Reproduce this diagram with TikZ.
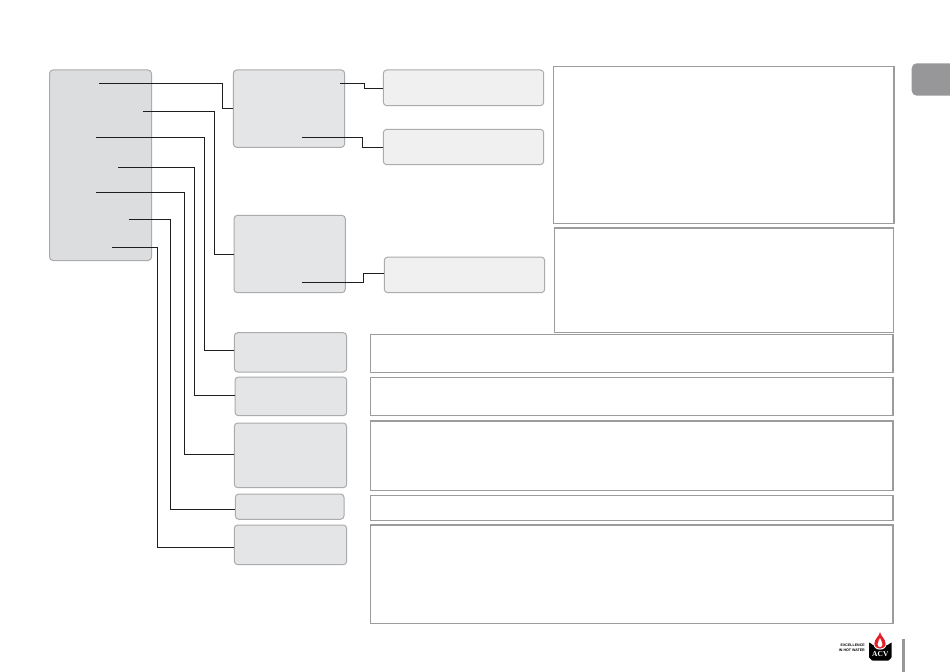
\documentclass[tikz,border=0pt]{standalone}
\usepackage{fontspec}
\setmainfont{Liberation Sans}
\newfontfamily\acvserif{Liberation Serif}
\definecolor{mainfill}{HTML}{DCDDDF}
\definecolor{midfill}{HTML}{E4E5E7}
\definecolor{lightfill}{HTML}{F0F0F1}
\definecolor{edgegray}{HTML}{ABABAD}
\definecolor{framegray}{HTML}{9C9C9E}
\definecolor{tabgray}{HTML}{97979A}
\definecolor{acvred}{HTML}{E3202A}
\definecolor{wire}{HTML}{1E1E1E}
\tikzset{
  x=1bp,y=-1bp,
  panel/.style={draw=edgegray,line width=1bp,rounded corners=3.5bp,inner sep=0pt,outer sep=0pt},
  mainbox/.style={panel,fill=mainfill},
  midbox/.style={panel,fill=midfill},
  lightbox/.style={panel,fill=lightfill},
  framebox/.style={draw=framegray,line width=1.1bp,fill=white,inner sep=0pt,outer sep=0pt},
  wireline/.style={draw=wire,line width=1bp,line cap=butt,line join=miter},
}
% name, style, x0, y0, x1, y1
\newcommand{\placebox}[6]{%
  \path (#3,#4) coordinate (#1-a) (#5,#6) coordinate (#1-b);
  \node[#2,anchor=north west,minimum width={(#5-#3)*1bp},minimum height={(#6-#4)*1bp}] (#1) at (#3,#4) {};
}
\begin{document}
\begin{tikzpicture}
\useasboundingbox (0,0) rectangle (950,672);
\fill[white] (0,0) rectangle (950,672);

\placebox{menu}{mainbox}{49.5}{70}{151.5}{260.5}
\placebox{boxA}{midbox}{233.3}{70}{344.7}{147.3}
\placebox{boxB}{midbox}{234}{215.3}{345.3}{292.7}
\placebox{boxC}{midbox}{234.3}{332.7}{346.7}{372}
\placebox{boxD}{midbox}{235}{377}{346.7}{415.7}
\placebox{boxE}{midbox}{234.3}{423}{346.7}{487.7}
\placebox{boxF}{midbox}{235.3}{494}{344}{519.3}
\placebox{boxG}{midbox}{234.3}{525}{346.7}{564.7}
\placebox{subA}{lightbox}{383.3}{70}{543.7}{105.7}
\placebox{subB}{lightbox}{383.3}{129.3}{543.7}{164.7}
\placebox{subC}{lightbox}{384.3}{257}{544.7}{292.7}
\placebox{noteA}{framebox}{553.5}{66.5}{894}{223.5}
\placebox{noteB}{framebox}{554.5}{228}{893.5}{332.3}
\placebox{noteC}{framebox}{370.5}{334.5}{893}{372.3}
\placebox{noteD}{framebox}{370.5}{377.3}{893}{415.3}
\placebox{noteE}{framebox}{370.5}{421}{893}{490.3}
\placebox{noteF}{framebox}{370.5}{495.3}{893}{520.7}
\placebox{noteG}{framebox}{370.5}{525}{893}{623.5}

% connector ends and elbows
\coordinate (s1) at (99,83.3);    \coordinate (k1) at (222.3,108.3);
\coordinate (s2) at (143.3,111.3);\coordinate (k2) at (214.3,254.3);
\coordinate (s3) at (96,137.3);   \coordinate (k3) at (204.3,350.3);
\coordinate (s4) at (118.3,167.3);\coordinate (k4) at (194.3,395.3);
\coordinate (s5) at (96,192);     \coordinate (k5) at (184.3,454.3);
\coordinate (s6) at (128.7,219.3);\coordinate (k6) at (170.3,509.3);
\coordinate (s7) at (112,247.3);  \coordinate (k7) at (157.3,547.3);
\coordinate (s8) at (340.3,83.3); \coordinate (k8) at (364.3,88.3);
\coordinate (s9) at (301.7,137.3);\coordinate (k9) at (362.3,147.3);
\coordinate (s10) at (302,282.3); \coordinate (k10) at (363.3,273.3);

\draw[wireline] (s1) -| (k1) -- (k1 -| boxA.west);
\draw[wireline] (s2) -| (k2) -- (k2 -| boxB.west);
\draw[wireline] (s3) -| (k3) -- (k3 -| boxC.west);
\draw[wireline] (s4) -| (k4) -- (k4 -| boxD.west);
\draw[wireline] (s5) -| (k5) -- (k5 -| boxE.west);
\draw[wireline] (s6) -| (k6) -- (k6 -| boxF.west);
\draw[wireline] (s7) -| (k7) -- (k7 -| boxG.west);
\draw[wireline] (s8) -| (k8) -- (k8 -| subA.west);
\draw[wireline] (s9) -| (k9) -- (k9 -| subB.west);
\draw[wireline] (s10) -| (k10) -- (k10 -| subC.west);

% page tab, square at the page edge
\begin{scope}
\clip (900,50) rectangle (950,110);
\fill[tabgray,rounded corners=5bp] (965,63.3) -- (911.7,63.3) -- (911.7,95.7) -- (965,95.7) -- cycle;
\end{scope}
% page bar
\fill[tabgray] (902,639) rectangle (905,672);

% logo
\fill[black,rounded corners=0.8bp] (869,642) .. controls (871,644.5) and (873,645.5) .. (880.3,645.5)
  .. controls (887.6,645.5) and (889.7,644.5) .. (891.7,642)
  -- (891.7,657.5) -- (888.5,660.7) -- (872.2,660.7) -- (869,657.5) -- cycle;
\fill[white] (880,631) .. controls (880.5,635.5) and (886.6,638.5) .. (886.6,643.5)
  .. controls (886.6,647.5) and (883.6,649.6) .. (880,649.6)
  .. controls (876.4,649.6) and (873.4,647.5) .. (873.4,643.5)
  .. controls (873.4,638.5) and (879.5,635.5) .. (880,631) -- cycle;
\fill[acvred] (880,632) .. controls (880.5,636) and (885.6,638.8) .. (885.6,643.5)
  .. controls (885.6,646.8) and (883,648.7) .. (880,648.7)
  .. controls (877,648.7) and (874.4,646.8) .. (874.4,643.5)
  .. controls (874.4,638.8) and (879.5,636) .. (880,632) -- cycle;
\fill[white] (880,638) .. controls (880.3,640) and (882.4,641.5) .. (882.4,644.3)
  .. controls (882.4,646) and (881.3,647.2) .. (880,647.2)
  .. controls (878.7,647.2) and (877.6,646) .. (877.6,644.3)
  .. controls (877.6,641.5) and (879.7,640) .. (880,638) -- cycle;
\node[text=white,inner sep=0pt,font=\acvserif\bfseries\fontsize{7.5}{7.5}\selectfont] (acv) at (880.3,654.3) {ACV};
\node[anchor=east,inner sep=0pt,font=\bfseries\fontsize{3.6}{3.6}\selectfont] (tag1) at (865,645.2) {EXCELLENCE};
\node[anchor=east,inner sep=0pt,font=\bfseries\fontsize{3.6}{3.6}\selectfont] (tag2) at (865,650.4) {IN HOT WATER};
\end{tikzpicture}
\end{document}
